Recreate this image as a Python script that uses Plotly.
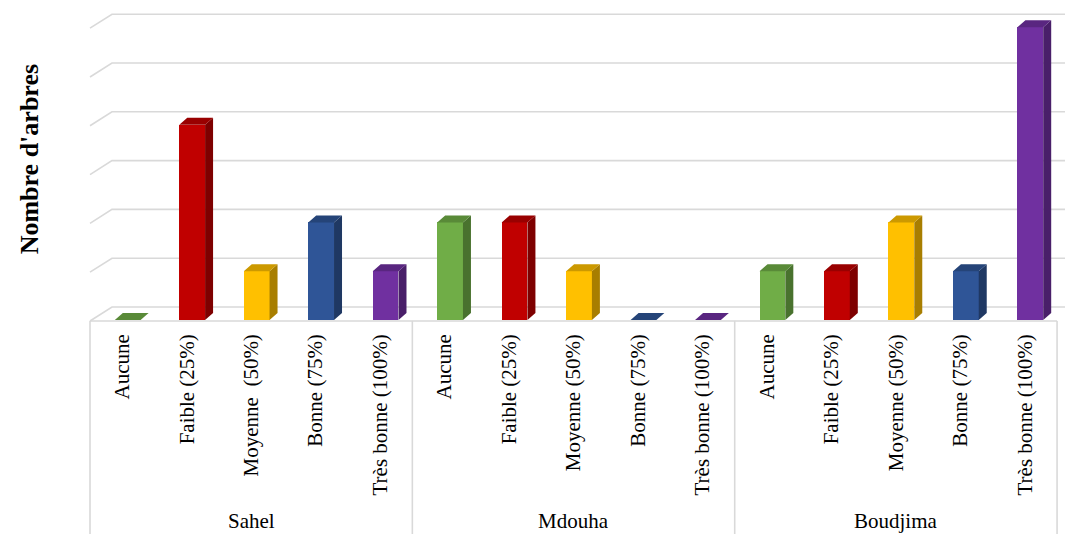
import plotly.graph_objects as go

# Tree counts per region and per flowering level
groups = ["Sahel", "Mdouha", "Boudjima"]
levels = ["Aucune", "Faible (25%)", "Moyenne (50%)", "Bonne (75%)", "Très bonne (100%)"]
sahel = [0, 4, 1, 2, 1]
mdouha = [2, 2, 1, 0, 0]
boudjima = [1, 1, 2, 1, 6]
tick_labels = [
    "Aucune", "Faible (25%)", "Moyenne\u00a0 (50%)", "Bonne (75%)", "Très bonne (100%)",
    "Aucune", "Faible (25%)", "Moyenne (50%)", "Bonne (75%)", "Très bonne (100%)",
    "Aucune", "Faible (25%)", "Moyenne (50%)", "Bonne (75%)", "Très bonne (100%)",
]
grid_values = [0, 1, 2, 3, 4, 5, 6]
level_colors = ["#70AD47", "#C00000", "#FFC000", "#2F5597", "#7030A0"]

series = [sahel, mdouha, boudjima]
n_lv = len(levels)

# pseudo-3D geometry (data units)
BAR_W = 0.40
BAR_SHIFT = 0.085
DEPTH_X = 0.124
DEPTH_Y = 0.143
WALL_X = 0.341
WALL_Y = 0.286
FLOOR_Y = -0.02
GRID = "#D9D9D9"
FONT = "Liberation Serif"


def shade(hex_color, f):
    h = hex_color.lstrip("#")
    r, g, b = (int(h[i:i + 2], 16) for i in (0, 2, 4))
    return "#{:02X}{:02X}{:02X}".format(int(r * f), int(g * f), int(b * f))


fig = go.Figure()

# front faces of the bars
for li, lvl in enumerate(levels):
    xs = [gi * n_lv + li + BAR_SHIFT for gi in range(len(groups))]
    ys = [series[gi][li] for gi in range(len(groups))]
    fig.add_trace(go.Bar(
        x=xs, y=ys, width=BAR_W, name=lvl,
        marker=dict(color=level_colors[li], line=dict(width=0)),
        showlegend=False, hoverinfo="skip",
    ))

# side and top faces
for li, lvl in enumerate(levels):
    side_x, side_y, top_x, top_y = [], [], [], []
    for gi in range(len(groups)):
        v = series[gi][li]
        xl = gi * n_lv + li + BAR_SHIFT - BAR_W / 2
        xr = xl + BAR_W
        if v > 0:
            side_x += [xr, xr + DEPTH_X, xr + DEPTH_X, xr, xr, None]
            side_y += [0, DEPTH_Y, v + DEPTH_Y, v, 0, None]
        top_x += [xl, xr, xr + DEPTH_X, xl + DEPTH_X, xl, None]
        top_y += [v, v, v + DEPTH_Y, v + DEPTH_Y, v, None]
    if side_x:
        fig.add_trace(go.Scatter(
            x=side_x, y=side_y, mode="lines", fill="toself",
            fillcolor=shade(level_colors[li], 0.66), line=dict(width=0),
            showlegend=False, hoverinfo="skip",
        ))
    fig.add_trace(go.Scatter(
        x=top_x, y=top_y, mode="lines", fill="toself",
        fillcolor=shade(level_colors[li], 0.80), line=dict(width=0),
        showlegend=False, hoverinfo="skip",
    ))

n_cat = n_lv * len(groups)
x_left = -0.5
x_right = n_cat - 0.5

# back wall gridlines with their slanted side-wall part
for v in grid_values:
    fig.add_shape(
        type="path", layer="below", xref="x", yref="y",
        path=f"M {x_left},{v + FLOOR_Y} L {x_left + WALL_X},{v + FLOOR_Y + WALL_Y} L {x_right + 2},{v + FLOOR_Y + WALL_Y}",
        line=dict(color=GRID, width=1.6),
    )

# floor front edge
fig.add_shape(type="line", layer="below", xref="x", yref="y",
              x0=x_left, x1=x_right, y0=FLOOR_Y, y1=FLOOR_Y,
              line=dict(color=GRID, width=1.6))

# category box under the floor
for b in range(len(groups) + 1):
    xb = b * n_lv - 0.5
    fig.add_shape(type="line", xref="x", yref="paper",
                  x0=xb, x1=xb, y0=0, y1=0.399,
                  line=dict(color=GRID, width=1.6))

# group labels
for gi, g in enumerate(groups):
    fig.add_annotation(
        x=gi * n_lv + (n_lv - 1) / 2, y=-4.12, xref="x", yref="y",
        text=g, showarrow=False, font=dict(family=FONT, size=21, color="#000000"),
        xanchor="center", yanchor="middle",
    )

# y axis title
fig.add_annotation(
    x=-0.058, y=0.702, xref="paper", yref="paper",
    text="<b>Nombre d'arbres</b>", textangle=-90, showarrow=False,
    font=dict(family=FONT, size=26, color="#000000"),
    xanchor="center", yanchor="middle",
)

fig.update_layout(
    width=1065, height=534,
    margin=dict(l=86, r=0, t=0, b=0),
    paper_bgcolor="white", plot_bgcolor="white",
    bargap=0, barmode="overlay",
    xaxis=dict(
        range=[-0.562, 14.623],
        anchor="free", position=0.399,
        tickvals=list(range(n_cat)), ticktext=tick_labels,
        tickangle=-90, ticks="", ticklabelstandoff=8,
        tickfont=dict(family=FONT, size=21, color="#000000"),
        showgrid=False, zeroline=False, showline=False,
    ),
    yaxis=dict(
        range=[-4.385, 6.557],
        visible=False, showgrid=False, zeroline=False,
    ),
)

fig.write_html("out.html")
